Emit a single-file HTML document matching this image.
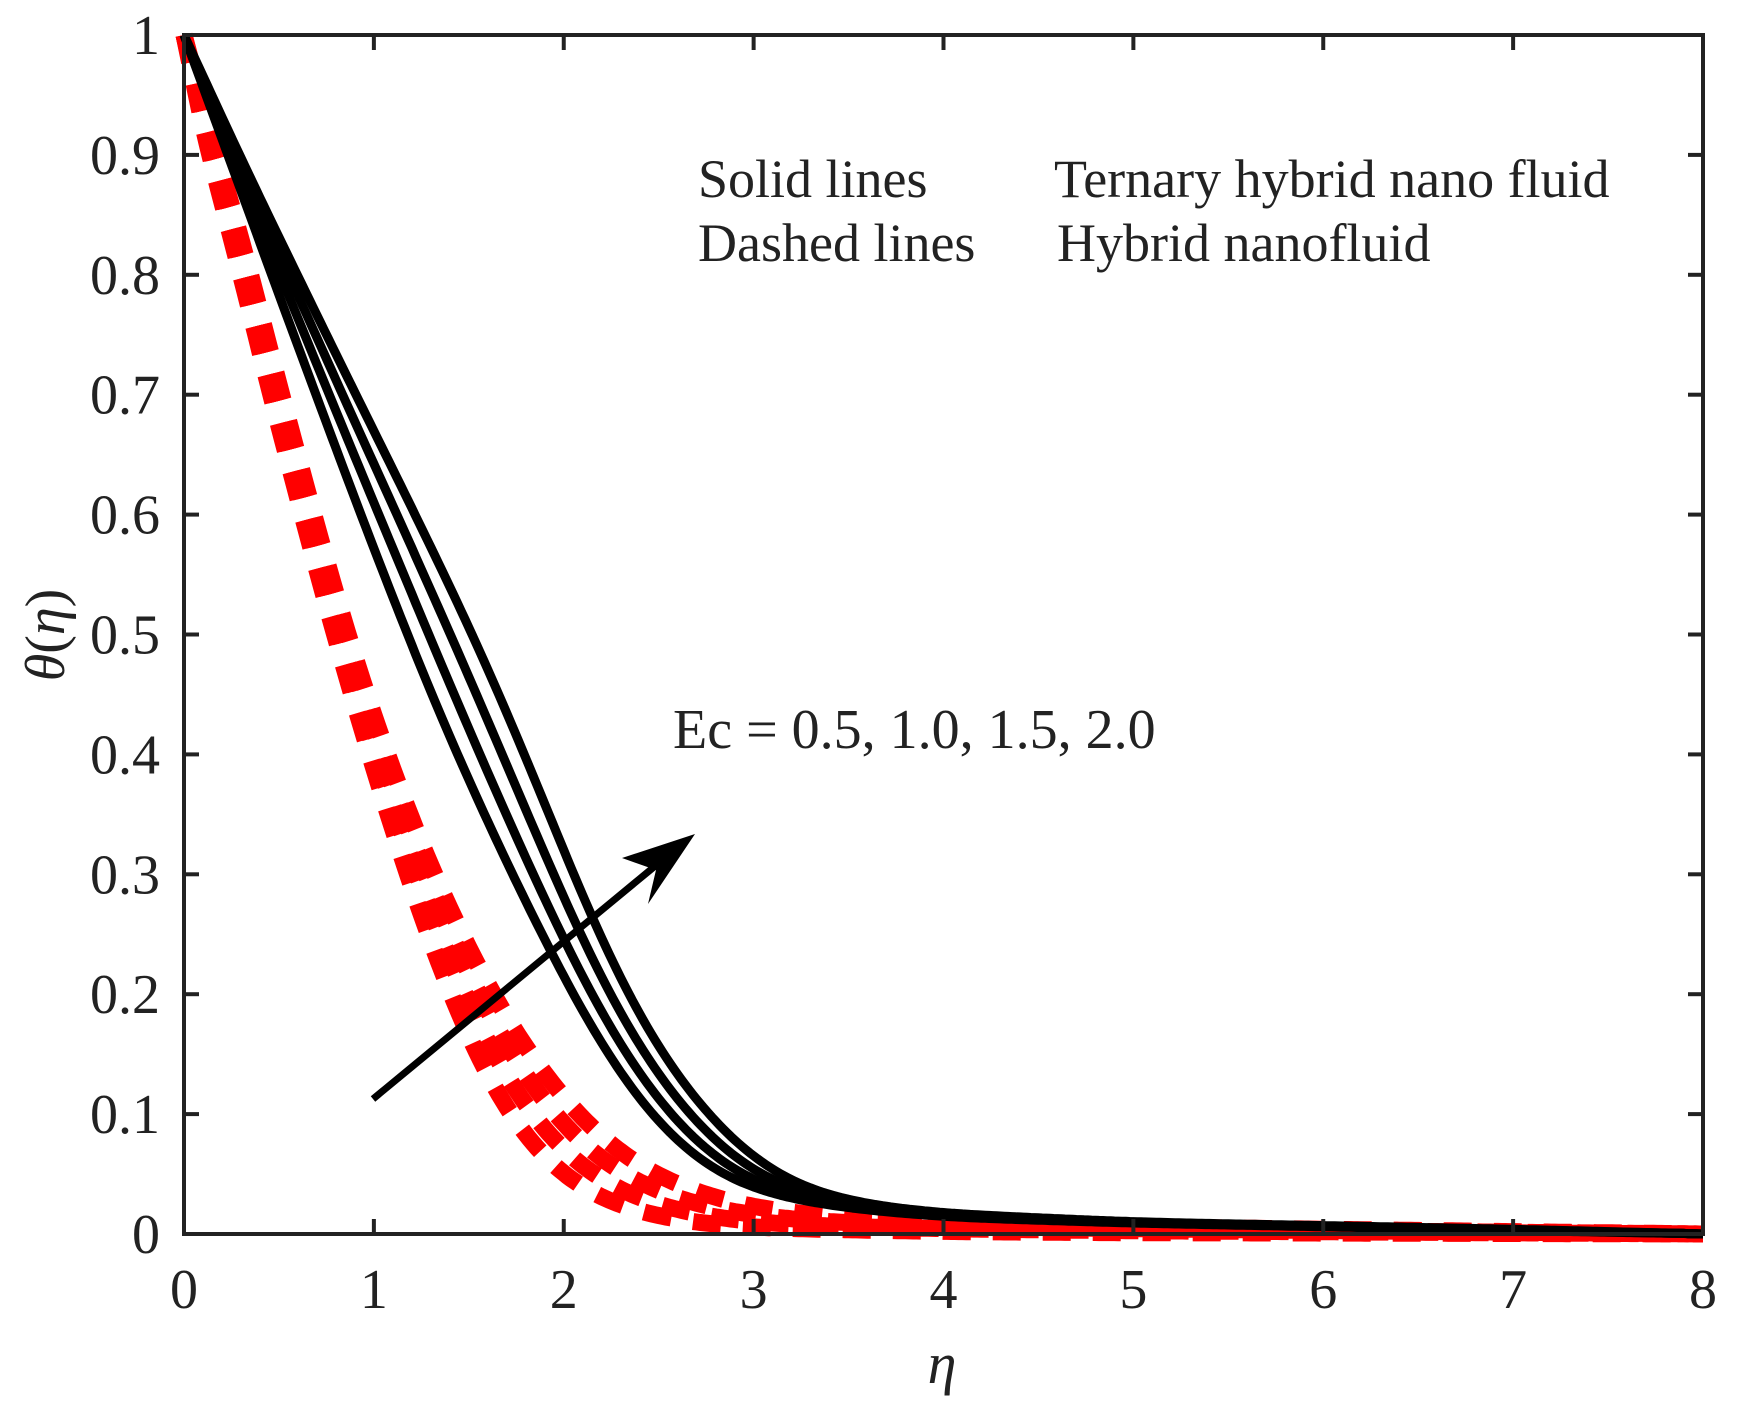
<!DOCTYPE html>
<html><head><meta charset="utf-8"><style>
html,body{margin:0;padding:0;background:#fff;}
svg{display:block;}
text{font-family:"Liberation Serif",serif;fill:#222;}
</style></head><body>
<svg id="s" width="1751" height="1413" viewBox="0 0 1751 1413" xmlns="http://www.w3.org/2000/svg">
<rect width="1751" height="1413" fill="#fff"/>
<g id="red" fill="none" stroke="#ff0000" stroke-width="17" stroke-dasharray="28 22"></g>
<g id="blk" fill="none" stroke="#000" stroke-width="9" stroke-linejoin="round"></g>
<g id="ax" stroke="#222" stroke-width="4" fill="none"></g>
<g id="lbl" font-size="56"></g>
<text x="698" y="197" font-size="54">Solid lines</text>
<text x="1054" y="197" font-size="54">Ternary hybrid nano fluid</text>
<text x="698" y="261" font-size="54">Dashed lines</text>
<text x="1057" y="261" font-size="54">Hybrid nanofluid</text>
<text x="673" y="748" font-size="56">Ec = 0.5, 1.0, 1.5, 2.0</text>
<line x1="373" y1="1099" x2="660" y2="862" stroke="#000" stroke-width="7"/>
<polygon points="695,834 648,904 656,870 622,858" fill="#000"/>
<text x="942" y="1383" font-size="58" font-style="italic" text-anchor="middle">η</text>
<text transform="translate(64,635) rotate(-90)" font-size="56" text-anchor="middle"><tspan font-style="italic">θ</tspan>(<tspan font-style="italic">η</tspan>)</text>
</svg>
<script>
const L=184,R=1703,T=35,B=1234;
const X=x=>L+x*(R-L)/8, Y=y=>B-y*(B-T);
const NS="http://www.w3.org/2000/svg";
function el(p,t,a,txt){const e=document.createElementNS(NS,t);for(const k in a)e.setAttribute(k,a[k]);if(txt!==undefined)e.textContent=txt;document.getElementById(p).appendChild(e);}
el('ax','rect',{x:L,y:T,width:R-L,height:B-T});
for(let i=0;i<=8;i++){const x=X(i);
 el('ax','line',{x1:x,y1:B,x2:x,y2:B-15});el('ax','line',{x1:x,y1:T,x2:x,y2:T+15});
 el('lbl','text',{x:x,y:1308,'text-anchor':'middle'},String(i));}
for(let i=0;i<=10;i++){const y=Y(i/10);
 el('ax','line',{x1:L,y1:y,x2:L+15,y2:y});el('ax','line',{x1:R,y1:y,x2:R-15,y2:y});
 const s=i==0?'0':i==10?'1':'0.'+i;
 el('lbl','text',{x:160,y:y+19,'text-anchor':'end'},s);}
function lin(pts){return x=>{let i=0;while(i<pts.length-2&&x>pts[i+1][0])i++;
 const a=pts[i],b=pts[i+1],t=(x-a[0])/(b[0]-a[0]);return a[1]+(b[1]-a[1])*t;};}
function path(pts){const f=lin(pts);const dx=0.01,N=800;const v=[];
 for(let i=0;i<=N;i++)v.push(f(i*dx));
 let d='';
 for(let i=0;i<=N;i+=2){const x=i*dx;const sg=Math.min(0.22,x/2.5);let y;
  if(sg<0.005)y=v[i];else{let s=0,w=0;const k=Math.ceil(3*sg/dx);
   for(let j=-k;j<=k;j++){const q=Math.min(N,Math.max(0,i+j));const ww=Math.exp(-0.5*(j*dx/sg)**2);s+=ww*v[q];w+=ww;}y=s/w;}
  if(x>7.9)y=v[i];
  d+=(d?'L':'M')+X(x).toFixed(1)+','+Y(y).toFixed(1);}
 return d;}
function mix(a,b,t){return a.map((p,i)=>[p[0]+(b[i][0]-p[0])*t,p[1]+(b[i][1]-p[1])*t]);}
const bi=[[0,1],[0.3,0.87],[0.6,0.74],[0.9,0.612],[1.17,0.5],[1.4,0.41],[1.65,0.325],[1.91,0.24],[2.1,0.18],[2.33,0.12],[2.55,0.078],[2.8,0.047],[3.1,0.031],[3.5,0.021],[4,0.014],[5,0.009],[6,0.006],[7,0.003],[8,0]];
const bo=[[0,1],[0.38,0.87],[0.78,0.74],[1.18,0.612],[1.5,0.51],[1.75,0.42],[1.95,0.34],[2.14,0.26],[2.36,0.185],[2.6,0.125],[2.85,0.08],[3.07,0.05],[3.3,0.034],[3.6,0.024],[4,0.017],[5,0.01],[6,0.007],[7,0.004],[8,0]];
for(let k=0;k<4;k++)el('blk','path',{d:path(mix(bi,bo,k/3))});
const ri=[[0,1],[0.13,0.9],[0.3,0.8],[0.46,0.7],[0.61,0.6],[0.78,0.5],[0.97,0.4],[1.16,0.3],[1.38,0.2],[1.62,0.11],[1.89,0.055],[2.2,0.025],[2.6,0.01],[3,0.005],[4,0.002],[5,0.001],[6,0.0008],[7,0.0004],[8,0]];
const ro=[[0,1],[0.17,0.9],[0.36,0.8],[0.52,0.7],[0.67,0.6],[0.84,0.5],[1.05,0.4],[1.3,0.3],[1.6,0.2],[1.9,0.126],[2.3,0.06],[2.8,0.027],[3.2,0.017],[3.6,0.012],[4,0.009],[5,0.006],[6,0.004],[7,0.002],[8,0]];
for(let k=0;k<4;k++)el('red','path',{d:path(mix(ri,ro,k/3))});
</script>
</body></html>
